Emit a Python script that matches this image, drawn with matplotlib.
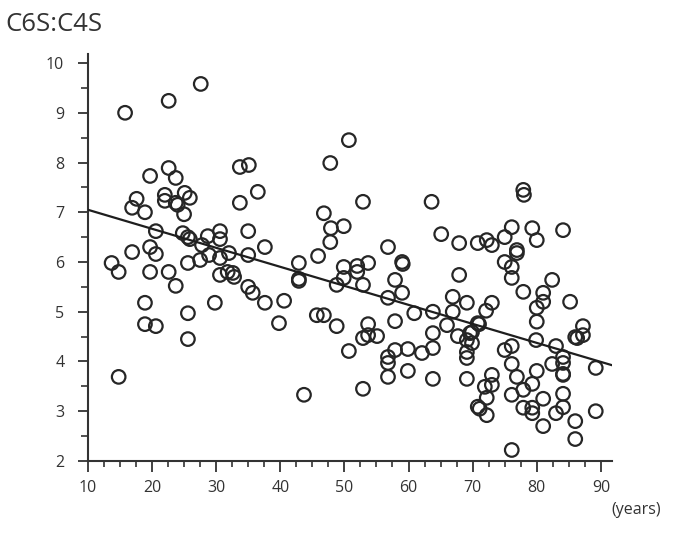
import numpy as np
import matplotlib
matplotlib.use("Agg")
import matplotlib.pyplot as plt
from matplotlib.ticker import MultipleLocator

plt.rcParams['font.family'] = ['Open Sans', 'DejaVu Sans']

# age (years) and C6S:C4S ratio
age = [
    15.8, 22.6, 27.6, 19.7, 22.6, 23.7, 33.7, 35.1, 36.5, 17.6,
    16.9, 18.9, 22.0, 22.0, 23.7, 24.0, 25.1, 25.9, 25.0, 33.7,
    20.6, 24.8, 25.6, 25.9, 28.7, 30.6, 30.6, 35.0, 19.7, 16.9,
    13.7, 14.8, 20.6, 19.7, 22.6, 23.7, 18.9, 18.9, 20.6, 14.8,
    25.6, 27.5, 28.9, 30.6, 30.6, 32.0, 31.8, 32.6, 32.8, 35.0,
    35.7, 35.0, 25.6, 25.6, 29.8, 27.8, 37.6, 37.6, 40.6,
    39.8, 42.9, 42.9, 42.9, 45.9, 47.8, 45.7, 46.8, 48.8, 43.7,
    48.8, 49.9, 49.9, 52.0, 52.0, 53.7, 52.9, 50.7, 52.9, 53.7,
    53.7, 55.1, 52.9, 56.8, 59.0, 59.1, 57.9, 59.0, 56.8, 60.9,
    57.9, 57.9, 59.9, 62.1, 56.8, 56.8, 56.8, 59.9, 50.7, 47.8,
    52.9, 46.8, 47.9, 49.9, 63.6, 77.9, 78.0, 65.1,
    67.9, 70.8, 72.2, 73.0, 75.0, 76.1, 79.3, 80.0, 84.1, 76.9,
    76.9, 75.0, 76.1, 76.1, 67.9, 77.9, 82.4, 81.0, 81.0, 80.0,
    80.0, 85.2, 87.2, 87.2, 86.0, 86.3, 89.2, 89.2, 86.0, 86.0,
    76.1, 81.0, 83.0, 84.1, 84.1, 84.1, 81.0, 77.9, 79.3, 79.3,
    79.3, 80.0, 77.9, 76.9, 76.1, 76.1, 75.0, 76.1, 79.9, 83.0,
    84.1, 84.1, 84.1, 82.4, 73.0, 73.0, 71.9, 72.2, 70.8, 71.1,
    72.2, 69.1, 63.8, 63.8, 63.8, 63.8, 66.9, 66.9, 66.0, 69.1,
    67.7, 69.1, 69.9, 69.6, 69.1, 69.1, 69.9, 70.8, 71.0, 72.1,
    73.0,
]
ratio = [
    9.00, 9.24, 9.58, 7.73, 7.89, 7.69, 7.91, 7.95, 7.41, 7.27,
    7.09, 7.00, 7.35, 7.23, 7.19, 7.15, 7.39, 7.29, 6.96, 7.19,
    6.62, 6.58, 6.50, 6.46, 6.52, 6.62, 6.46, 6.62, 6.30, 6.20,
    5.98, 5.80, 6.16, 5.80, 5.80, 5.52, 5.18, 4.75, 4.71, 3.69,
    5.98, 6.04, 6.14, 6.08, 5.74, 6.18, 5.80, 5.78, 5.70, 5.50,
    5.38, 6.14, 4.97, 4.45, 5.18, 6.34, 6.30, 5.18, 5.22,
    4.77, 5.98, 5.66, 5.62, 6.12, 6.40, 4.93, 4.93, 4.71, 3.33,
    5.54, 5.90, 5.68, 5.92, 5.80, 5.98, 5.54, 4.21, 4.47, 4.53,
    4.75, 4.51, 3.45, 6.30, 6.00, 5.96, 5.64, 5.38, 5.28, 4.97,
    4.81, 4.23, 4.25, 4.17, 4.09, 3.97, 3.69, 3.81, 8.45, 7.99,
    7.21, 6.98, 6.68, 6.72, 7.21, 7.45, 7.35, 6.56,
    6.38, 6.38, 6.44, 6.34, 6.50, 6.70, 6.68, 6.44, 6.64, 6.24,
    6.18, 6.00, 5.90, 5.68, 5.74, 5.40, 5.64, 5.38, 5.20, 5.08,
    4.80, 5.20, 4.71, 4.53, 4.49, 4.47, 3.87, 3.00, 2.80, 2.44,
    2.22, 2.70, 2.96, 3.08, 3.35, 3.73, 3.25, 3.07, 3.07, 2.96,
    3.55, 3.81, 3.43, 3.69, 3.33, 3.95, 4.23, 4.31, 4.43, 4.31,
    4.09, 3.97, 3.75, 3.95, 3.73, 3.53, 3.49, 3.27, 3.09, 3.05,
    2.92, 3.65, 3.65, 4.27, 4.57, 5.00, 5.30, 5.00, 4.73, 5.18,
    4.51, 4.43, 4.37, 4.57, 4.19, 4.07, 4.59, 4.77, 4.75, 5.02,
    5.18,
]

# regression line end points
fit_x = [10.0, 91.6]
fit_y = [7.05, 3.93]

fig = plt.figure(figsize=(6.76, 5.41), dpi=100)
ax = fig.add_axes([0.130, 0.148, 0.775, 0.752])

ax.scatter(age, ratio, s=95, facecolors='none', edgecolors='#262626',
           linewidths=1.6, zorder=3)
ax.plot(fit_x, fit_y, color='#1e1e1e', lw=1.6, zorder=4)

ax.set_xlim(10, 91.7)
ax.set_ylim(2, 10.18)
ax.xaxis.set_major_locator(MultipleLocator(10))
ax.xaxis.set_minor_locator(MultipleLocator(2.5))
ax.yaxis.set_major_locator(MultipleLocator(1))
ax.yaxis.set_minor_locator(MultipleLocator(0.5))

for s in ['top', 'right']:
    ax.spines[s].set_visible(False)
for s in ['left', 'bottom']:
    ax.spines[s].set_linewidth(1.5)
    ax.spines[s].set_color('#333333')

ax.tick_params(axis='x', which='major', length=8, width=1.3, color='#333333',
               labelsize=11.5, labelcolor='#333333', pad=6)
ax.tick_params(axis='x', which='minor', length=4, width=1.2, color='#333333')
ax.tick_params(axis='y', which='major', length=7, width=1.3, color='#333333',
               labelsize=11.5, labelcolor='#333333', pad=10)
ax.tick_params(axis='y', which='minor', length=5, width=1.2, color='#333333')

fig.text(0.008, 0.954, 'C6S:C4S', fontsize=18.5, color='#333333',
         ha='left', va='center')
fig.text(0.978, 0.058, '(years)', fontsize=11.5, color='#333333',
         ha='right', va='center')

fig.savefig('out.png', dpi=100)
